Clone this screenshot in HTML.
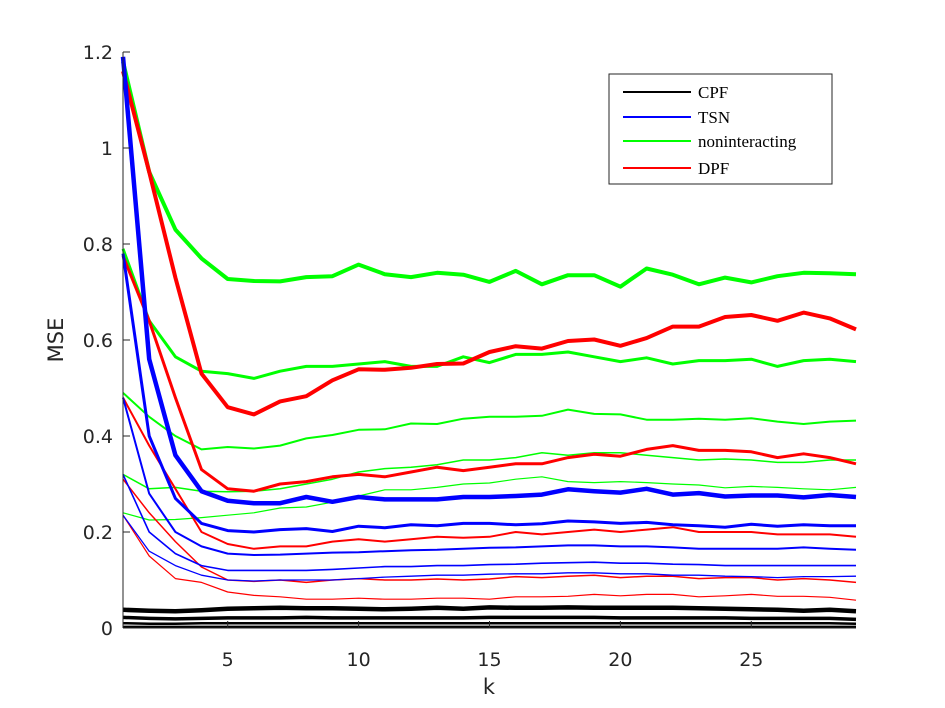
<!DOCTYPE html>
<html><head><meta charset="utf-8"><style>
body{margin:0;background:#fff;}
svg{display:block;font-family:"DejaVu Sans","Liberation Sans",sans-serif;}
</style></head><body>
<svg id="chart" width="945" height="708" viewBox="0 0 945 708">
<rect width="945" height="708" fill="#fff"/>
<g id="series"></g>
<g id="axes"></g>
<g id="legend">
<rect x="609" y="74" width="223" height="110" fill="#fff" stroke="#262626" stroke-width="1"/>
</g>
</svg>
<script>
const ks = Array.from({length:29},(_,i)=>i+1);
const xTicks = [5,10,15,20,25];
const yTicks = [0,0.2,0.4,0.6,0.8,1,1.2];
const yTickLabels = ["0","0.2","0.4","0.6","0.8","1","1.2"];
const legendLabels = ["CPF","TSN","noninteracting","DPF"];
const legendColors = ["#000000","#0000ff","#00ff00","#ff0000"];

const green1 = [1.18,0.95,0.83,0.77,0.727,0.723,0.722,0.731,0.733,0.757,0.737,0.731,0.740,0.736,0.721,0.744,0.716,0.735,0.735,0.711,0.749,0.736,0.716,0.730,0.720,0.733,0.740,0.739,0.737];
const green2 = [0.79,0.64,0.565,0.535,0.53,0.52,0.535,0.545,0.545,0.55,0.555,0.545,0.545,0.565,0.553,0.57,0.57,0.575,0.565,0.555,0.563,0.55,0.557,0.557,0.56,0.545,0.557,0.56,0.555];
const green3 = [0.49,0.44,0.40,0.372,0.377,0.374,0.38,0.395,0.402,0.413,0.414,0.426,0.425,0.436,0.44,0.44,0.442,0.455,0.446,0.445,0.434,0.434,0.436,0.434,0.437,0.43,0.425,0.43,0.432];
const green4 = [0.32,0.29,0.293,0.285,0.284,0.285,0.29,0.3,0.31,0.325,0.332,0.335,0.34,0.35,0.35,0.355,0.365,0.36,0.365,0.365,0.36,0.355,0.35,0.352,0.35,0.345,0.345,0.35,0.35];
const green5 = [0.24,0.225,0.226,0.23,0.235,0.24,0.25,0.252,0.262,0.275,0.288,0.288,0.293,0.3,0.302,0.31,0.315,0.305,0.303,0.305,0.303,0.3,0.298,0.292,0.295,0.293,0.29,0.288,0.293];
const red1 = [1.16,0.95,0.73,0.53,0.46,0.445,0.472,0.483,0.516,0.539,0.538,0.542,0.550,0.551,0.575,0.587,0.582,0.598,0.601,0.588,0.604,0.628,0.628,0.648,0.652,0.640,0.657,0.645,0.622];
const red2 = [0.775,0.64,0.48,0.33,0.29,0.285,0.30,0.305,0.315,0.32,0.315,0.325,0.335,0.328,0.335,0.342,0.342,0.355,0.362,0.358,0.372,0.38,0.37,0.37,0.367,0.355,0.363,0.355,0.342];
const red3 = [0.48,0.38,0.29,0.2,0.175,0.165,0.17,0.17,0.18,0.185,0.18,0.185,0.19,0.188,0.19,0.2,0.195,0.2,0.205,0.2,0.205,0.21,0.2,0.2,0.2,0.195,0.195,0.195,0.19];
const red4 = [0.31,0.24,0.18,0.127,0.1,0.097,0.1,0.095,0.1,0.103,0.1,0.1,0.102,0.1,0.102,0.107,0.105,0.108,0.11,0.105,0.108,0.108,0.103,0.105,0.105,0.1,0.103,0.1,0.095];
const red5 = [0.235,0.15,0.103,0.095,0.075,0.068,0.065,0.06,0.06,0.062,0.06,0.06,0.062,0.062,0.06,0.065,0.065,0.066,0.07,0.067,0.07,0.07,0.065,0.067,0.07,0.066,0.066,0.064,0.058];
const blue1 = [1.19,0.56,0.36,0.285,0.265,0.26,0.26,0.273,0.263,0.273,0.268,0.268,0.268,0.273,0.273,0.275,0.278,0.289,0.285,0.282,0.29,0.278,0.281,0.274,0.276,0.276,0.272,0.277,0.273];
const blue2 = [0.78,0.40,0.27,0.218,0.203,0.2,0.205,0.207,0.201,0.212,0.209,0.215,0.213,0.218,0.218,0.215,0.217,0.223,0.221,0.218,0.22,0.215,0.213,0.21,0.216,0.212,0.215,0.213,0.213];
const blue3 = [0.48,0.28,0.2,0.17,0.155,0.152,0.153,0.155,0.157,0.158,0.16,0.162,0.163,0.165,0.167,0.168,0.17,0.172,0.172,0.17,0.17,0.168,0.165,0.165,0.165,0.165,0.168,0.165,0.163];
const blue4 = [0.32,0.2,0.155,0.13,0.12,0.12,0.12,0.12,0.122,0.125,0.128,0.128,0.13,0.13,0.132,0.133,0.135,0.136,0.137,0.135,0.135,0.133,0.132,0.13,0.13,0.13,0.13,0.13,0.13];
const blue5 = [0.235,0.16,0.13,0.11,0.1,0.098,0.1,0.1,0.1,0.103,0.106,0.108,0.11,0.11,0.112,0.113,0.113,0.115,0.115,0.113,0.113,0.11,0.11,0.108,0.107,0.105,0.107,0.107,0.108];
const black1 = [0.038,0.036,0.035,0.037,0.04,0.041,0.042,0.041,0.041,0.04,0.039,0.04,0.042,0.04,0.043,0.042,0.042,0.043,0.042,0.042,0.042,0.042,0.041,0.04,0.039,0.038,0.036,0.038,0.035];
const black2 = [0.022,0.02,0.019,0.02,0.021,0.021,0.021,0.022,0.021,0.021,0.021,0.021,0.021,0.021,0.022,0.022,0.022,0.022,0.022,0.021,0.021,0.021,0.021,0.021,0.02,0.02,0.02,0.02,0.018];
const black3 = [0.01,0.009,0.009,0.01,0.01,0.01,0.01,0.01,0.01,0.01,0.01,0.01,0.01,0.01,0.01,0.01,0.01,0.01,0.01,0.01,0.01,0.01,0.01,0.01,0.01,0.01,0.01,0.01,0.009];
const black4 = [0.003,0.003,0.003,0.003,0.003,0.003,0.003,0.003,0.003,0.003,0.003,0.003,0.003,0.003,0.003,0.003,0.003,0.003,0.003,0.003,0.003,0.003,0.003,0.003,0.003,0.003,0.003,0.003,0.003];

const X0=123, X1=856, Y0=628, Y1=52;
function xScale(k){return X0+(k-1)*(X1-X0)/28;}
function yScale(v){return Y0-v*(Y0-Y1)/1.2;}
const NS="http://www.w3.org/2000/svg";
function mk(tag,attrs,parent){const e=document.createElementNS(NS,tag);for(const a in attrs)e.setAttribute(a,attrs[a]);parent.appendChild(e);return e;}

const seriesList=[
 ["green-1",green1,"#00ff00",4],["green-2",green2,"#00ff00",3],["green-3",green3,"#00ff00",2],["green-4",green4,"#00ff00",1.5],["green-5",green5,"#00ff00",1.2],
 ["red-1",red1,"#ff0000",4],["red-2",red2,"#ff0000",3],["red-3",red3,"#ff0000",2],["red-4",red4,"#ff0000",1.5],["red-5",red5,"#ff0000",1.2],
 ["blue-1",blue1,"#0000ff",4.5],["blue-2",blue2,"#0000ff",3],["blue-3",blue3,"#0000ff",2],["blue-4",blue4,"#0000ff",1.6],["blue-5",blue5,"#0000ff",1.3],
 ["black-1",black1,"#000000",4.5],["black-2",black2,"#000000",3.5],["black-3",black3,"#000000",2.5],["black-4",black4,"#000000",2]
];
const sg=document.getElementById('series');
seriesList.forEach(s=>{
 const d=s[1].map((v,i)=>(i?'L':'M')+xScale(ks[i]).toFixed(1)+','+yScale(v).toFixed(1)).join(' ');
 const p=mk('path',{d:d,fill:'none',stroke:s[2],'stroke-width':s[3],'stroke-linejoin':'round'},sg);
 
 
});

const ag=document.getElementById('axes');
mk('line',{x1:X0,y1:Y0,x2:X1,y2:Y0,stroke:'#262626','stroke-width':1},ag);
mk('line',{x1:X0,y1:Y0,x2:X0,y2:Y1,stroke:'#262626','stroke-width':1},ag);
xTicks.forEach(t=>{
 const x=xScale(t);
 mk('line',{x1:x,y1:Y0,x2:x,y2:Y0-7,stroke:'#262626'},ag);
 const tx=mk('text',{x:x,y:Y0+38,'text-anchor':'middle','font-size':19,fill:'#262626'},ag);
 tx.textContent=t;
 
 
});
yTicks.forEach((t,i)=>{
 const y=yScale(t);
 mk('line',{x1:X0,y1:y,x2:X0+7,y2:y,stroke:'#262626'},ag);
 const tx=mk('text',{x:X0-10,y:y+7,'text-anchor':'end','font-size':19,fill:'#262626'},ag);
 tx.textContent=yTickLabels[i];
 
 
});
const xt=mk('text',{x:489,y:694,'text-anchor':'middle','font-size':21,fill:'#262626'},ag);
xt.textContent='k';


const yt=mk('text',{x:0,y:0,'text-anchor':'middle','font-size':21,fill:'#262626',transform:'translate(63,340) rotate(-90)'},ag);
yt.textContent='MSE';



const lg=document.getElementById('legend');
const ly=[92,117,141,168];
legendLabels.forEach((l,i)=>{
 const ln=mk('line',{x1:623,y1:ly[i],x2:691,y2:ly[i],stroke:legendColors[i],'stroke-width':2},lg);
 
 
 const tx=mk('text',{x:698,y:ly[i]+6,'font-size':17,fill:'#000','font-family':'"Liberation Serif",serif'},lg);
 tx.textContent=l;
 
 
});
</script>
</body></html>
